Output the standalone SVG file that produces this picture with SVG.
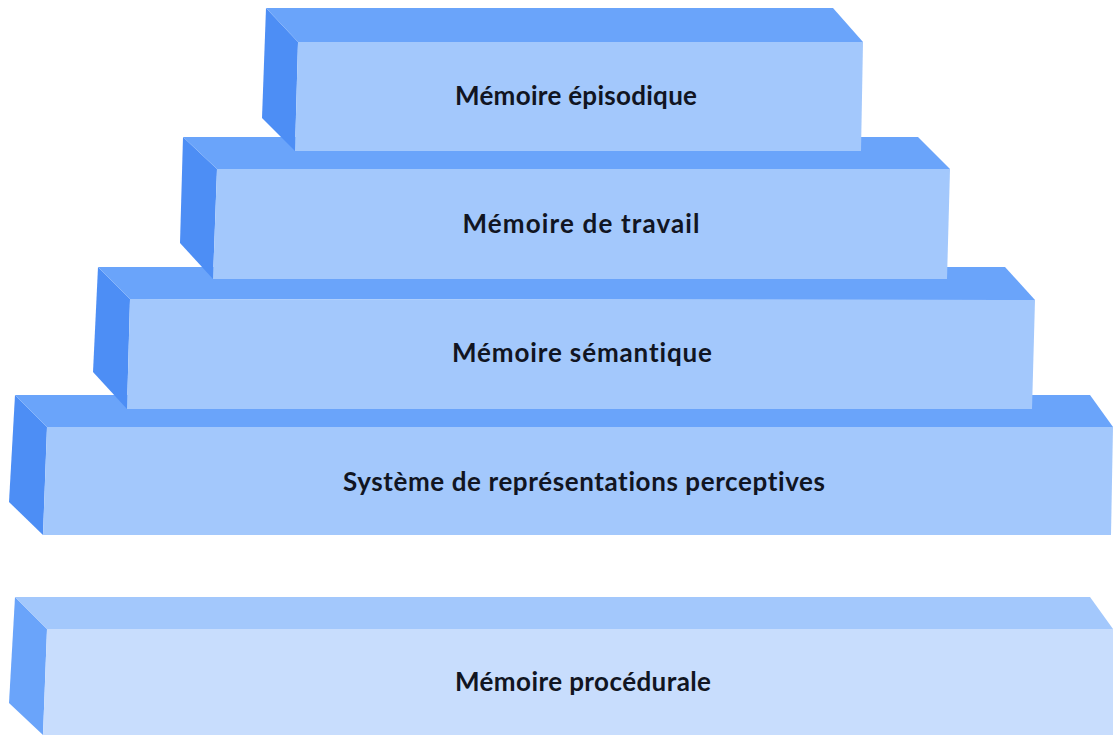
<svg xmlns="http://www.w3.org/2000/svg" width="1113" height="735" viewBox="0 0 1113 735">
<style>
.side{fill:#4d8ef5}
.top{fill:#6aa4fa}
.front{fill:#a3c8fc}
.side5{fill:#6aa4fa}
.top5{fill:#a3c8fc}
.front5{fill:#c8ddfd}
.lbl{font-family:Lato,"Open Sans","Liberation Sans",sans-serif;font-weight:bold;font-size:26px;fill:#111522;text-anchor:middle;font-variant-ligatures:none;font-feature-settings:"liga" 0}
</style>
<rect width="1113" height="735" fill="#ffffff"/>
<g id="procedurale">
<polygon class="side5" points="15,597 9,703 43,735 47,629"/>
<polygon class="top5" points="15,597 1090,597 1113,629 47,629"/>
<polygon class="front5" points="47,629 1113,629 1113,735 43,735"/>
<text class="lbl" x="583" y="691" textLength="256" lengthAdjust="spacing">Mémoire procédurale</text>
</g>
<g id="pers">
<polygon class="side" points="15,395 9,502 43,535 47,427"/>
<polygon class="top" points="15,395 1090,395 1113,427 47,427"/>
<polygon class="front" points="47,427 1113,427 1111,535 43,535"/>
<text class="lbl" x="584" y="491" textLength="482" lengthAdjust="spacing">Système de représentations perceptives</text>
</g>
<g id="semantique">
<polygon class="side" points="98,267 93,372 127,409 130,299"/>
<polygon class="top" points="98,267 1005,267 1035,300 130,299"/>
<polygon class="front" points="130,299 1035,300 1032,409 127,409"/>
<text class="lbl" x="582" y="362" textLength="260" lengthAdjust="spacing">Mémoire sémantique</text>
</g>
<g id="travail">
<polygon class="side" points="183,137 180,243 213,279 217,169"/>
<polygon class="top" points="183,137 918,137 950,169 217,169"/>
<polygon class="front" points="217,169 950,169 947,279 213,279"/>
<text class="lbl" x="581" y="233" textLength="237" lengthAdjust="spacing">Mémoire de travail</text>
</g>
<g id="episodique">
<polygon class="side" points="266,8 262,118 295,151 298,42"/>
<polygon class="top" points="266,8 833,8 863,42 298,42"/>
<polygon class="front" points="298,42 863,42 861,151 295,151"/>
<text class="lbl" x="576" y="105" textLength="242" lengthAdjust="spacing">Mémoire épisodique</text>
</g>
<g id="connectors"/>
</svg>
